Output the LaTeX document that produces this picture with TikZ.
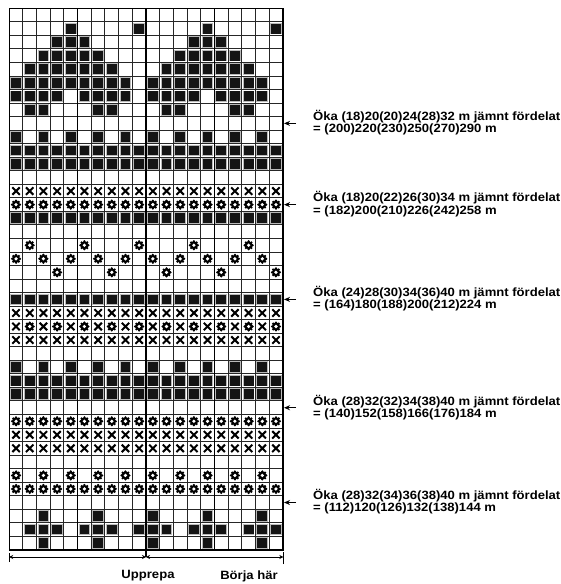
\documentclass[tikz,border=0pt]{standalone}
\usepackage{fontspec}
\newfontfamily\lblfont{Liberation Sans}[FakeStretch=1.09]
\usetikzlibrary{arrows.meta}
\begin{document}
\begin{tikzpicture}[x=1pt,y=-1pt]
\useasboundingbox (0,0) rectangle (561,584);
\def\cw{13.68}\def\ch{13.54}\def\gx{9.2}\def\gy{8.3}
\tikzset{
  bsq/.pic={\fill[gray!55] (-5.8,-5.8) rectangle (5.8,5.8); \fill[black!92] (-4.9,-4.9) rectangle (4.9,4.9);},
  xsym/.pic={\draw[line width=2pt] (-3.7,-3.7)--(3.7,3.7) (-3.7,3.7)--(3.7,-3.7);},
  fsym/.pic={\fill (0,0) circle (4); \foreach \a in {0,45,...,315} \fill (\a:3.9) circle (1.3); \fill[white] (0,0) circle (1.8);},
  gridline/.style={line width=1pt, black!85},
  lbl/.style={font=\lblfont\bfseries\fontsize{12}{10.5}\selectfont, align=left, anchor=west, inner sep=0pt},
  btxt/.style={font=\lblfont\bfseries\fontsize{12}{12}\selectfont, inner sep=0pt},
  arr/.style={line width=1pt, -{Stealth[length=6pt,width=5pt]}},
  dim/.style={line width=0.8pt, {Stealth[length=4pt,width=4pt]}-{Stealth[length=4pt,width=4pt]}}
}
% grid lines
\foreach \i in {0,...,40} \draw[gridline] (\gx,\gy+\i*\ch) -- (\gx+20*\cw,\gy+\i*\ch);
\foreach \j in {0,...,20} \draw[gridline] (\gx+\j*\cw,\gy) -- (\gx+\j*\cw,\gy+40*\ch);
\foreach \j in {5,15} \draw[line width=1.5pt] (\gx+\j*\cw,\gy) -- (\gx+\j*\cw,\gy+40*\ch);
\draw[line width=1.4pt] (\gx,\gy) rectangle (\gx+20*\cw,\gy+40*\ch);
\draw[line width=2pt] (\gx+10*\cw,\gy) -- (\gx+10*\cw,557);
% black squares
\foreach \r/\cl in {
  2/{5,10,15,20},
  3/{4,5,6,14,15,16},
  4/{3,4,5,6,7,13,14,15,16,17},
  5/{2,3,4,5,6,7,8,12,13,14,15,16,17,18},
  6/{1,2,3,4,5,6,7,8,9,11,12,13,14,15,16,17,18,19},
  7/{1,2,3,4,6,7,8,9,11,12,13,14,16,17,18,19},
  8/{2,3,7,8,12,13,17,18},
  10/{1,3,5,7,9,11,13,15,17,19},
  11/{1,...,20}, 12/{1,...,20}, 16/{1,...,20}, 22/{1,...,20},
  27/{1,3,5,7,9,11,13,15,17,19},
  28/{1,...,20}, 29/{1,...,20},
  38/{3,7,11,15,19},
  39/{2,3,4,6,7,8,10,11,12,14,15,16,18,19,20},
  40/{3,7,11,15,19}}
  \foreach \c in \cl \pic at (\gx+\c*\cw-0.5*\cw,\gy+\r*\ch-0.5*\ch) {bsq};
% crosses
\foreach \r/\cl in {
  14/{1,...,20}, 23/{1,...,20}, 25/{1,...,20}, 32/{1,...,20}, 33/{1,...,20},
  24/{1,3,5,7,9,11,13,15,17,19}}
  \foreach \c in \cl \pic at (\gx+\c*\cw-0.5*\cw,\gy+\r*\ch-0.5*\ch) {xsym};
% flowers
\foreach \r/\cl in {
  15/{1,...,20}, 31/{1,...,20}, 36/{1,...,20},
  18/{2,6,10,14,18},
  19/{1,3,5,7,9,11,13,15,17,19},
  20/{4,8,12,16,20},
  24/{2,4,6,8,10,12,14,16,18,20},
  35/{1,3,5,7,9,11,13,15,17,19}}
  \foreach \c in \cl \pic at (\gx+\c*\cw-0.5*\cw,\gy+\r*\ch-0.5*\ch) {fsym};
% labels with arrows
\foreach \r/\ta/\tb [count=\k] in {
  9/{Öka (18)20(20)24(28)32 m jämnt fördelat}/{= (200)220(230)250(270)290 m},
  15/{Öka (18)20(22)26(30)34 m jämnt fördelat}/{= (182)200(210)226(242)258 m},
  22/{Öka (24)28(30)34(36)40 m jämnt fördelat}/{= (164)180(188)200(212)224 m},
  30/{Öka (28)32(32)34(38)40 m jämnt fördelat}/{= (140)152(158)166(176)184 m},
  37/{Öka (28)32(34)36(38)40 m jämnt fördelat}/{= (112)120(126)132(138)144 m}}
{
  \node[lbl] (L\k) at (313,\gy+\r*\ch-0.5*\ch-0.5) {\ta\\\tb};
  \coordinate (A\k) at (296,\gy+\r*\ch-0.5*\ch);
  \coordinate (G\k) at (\gx+20*\cw+1.2,\gy+\r*\ch-0.5*\ch);
  \draw[arr] (A\k) -- (G\k);
}
% bottom dimension line
\coordinate (BL) at (\gx,557);
\coordinate (BC) at (\gx+10*\cw,557);
\coordinate (BR) at (\gx+20*\cw+0.5,557);
\draw[dim] (BL) -- (BC);
\draw[dim] (BC) -- (BR);
\draw[line width=0.9pt] ([yshift=-5pt]BL) -- ([yshift=4pt]BL);
\draw[line width=1.2pt] ([yshift=-7pt]BR) -- ([yshift=5pt]BR);
\node[btxt] (up) at (148,576) {Upprepa};
\node[btxt] (bh) at (249,576) {Börja här};
\end{tikzpicture}
\end{document}
